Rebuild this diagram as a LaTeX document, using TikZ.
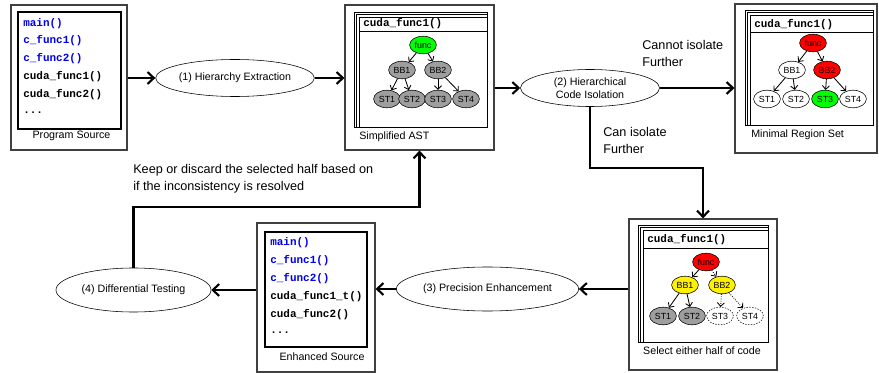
\documentclass[tikz,border=0pt]{standalone}
\usepackage{fontspec}
\setmainfont{Liberation Sans}
\setmonofont{Liberation Mono}
\usetikzlibrary{arrows.meta,shapes.geometric}
\definecolor{codeblue}{RGB}{0,0,235}
\definecolor{astgray}{RGB}{158,158,158}
\begin{document}
\begin{tikzpicture}
[x=0.025cm,y=-0.025cm,
  stepdecorate/.style={shape=ellipse,draw,inner sep=0pt,align=center,font=\fontsize{7.6}{9}\selectfont},%
  outerbox/.style={draw=black!75,line width=0.8pt,inner sep=0pt},%
  innerbox/.style={draw,line width=0.8pt,inner sep=0pt},%
  codeline/.style={anchor=west,inner sep=0pt,font=\fontsize{7.8}{9}\selectfont\ttfamily\bfseries},%
  caption/.style={inner sep=0pt,font=\fontsize{7.6}{9}\selectfont},%
  flowlabel/.style={anchor=west,align=left,inner sep=0pt,font=\fontsize{9}{12}\selectfont},%
  astdecorate/.style={shape=ellipse,draw,minimum width=0.67cm,minimum height=0.44cm,inner sep=0pt,font=\fontsize{6.3}{7}\selectfont},%
  stackdecorate/.style={draw,fill=white,line width=0.7pt},%
  arrowdecorate/.style={-{Straight Barb[length=4.5pt,width=8.5pt]},line width=1.5pt},%
  treearrow/.style={-{Straight Barb[length=2.6pt,width=5pt]},line width=0.6pt}]
\useasboundingbox (0,0) rectangle (879,373);
% program source
\node (srcbox) at (69,77.5) [outerbox,minimum width=2.9cm,minimum height=3.625cm] {};
\node (srcinner) at (69.5,70.5) [innerbox,minimum width=2.575cm,minimum height=2.925cm] {};
\node (srcl1) at (23,24) [codeline,text=codeblue] {main()};
\node (srcl2) at (23,41) [codeline,text=codeblue] {c\_func1()};
\node (srcl3) at (23,59) [codeline,text=codeblue] {c\_func2()};
\node (srcl4) at (23,77) [codeline] {cuda\_func1()};
\node (srcl5) at (23,95) [codeline] {cuda\_func2()};
\node (srcl6) at (23,113) [codeline] {...};
\node (srccap) at (71.5,136) [caption] {Program Source};
% simplified ast
\node (astbox) at (419.5,77.5) [outerbox,minimum width=3.725cm,minimum height=3.625cm] {};
\draw[stackdecorate] (354,12) rectangle (487,127);
\draw[stackdecorate] (356.5,14.5) rectangle (487,127);
\draw[stackdecorate] (359,17) rectangle (487,127);
\draw (359,31) -- (487,31);
\node (asttitle) at (363,24) [codeline] {cuda\_func1()};
\node (af) at (423,45) [astdecorate,fill=green] {func};
\node (ab1) at (402,70) [astdecorate,fill=astgray] {BB1};
\node (ab2) at (438,70) [astdecorate,fill=astgray] {BB2};
\node (as1) at (387,99) [astdecorate,fill=astgray] {ST1};
\node (as2) at (412,99) [astdecorate,fill=astgray] {ST2};
\node (as3) at (438,99) [astdecorate,fill=astgray] {ST3};
\node (as4) at (466,99) [astdecorate,fill=astgray] {ST4};
\node (astcap) at (359,137) [caption,anchor=west] {Simplified AST};
\path
(af) edge[treearrow] (ab1)
(af) edge[treearrow] (ab2)
(ab1) edge[treearrow] (as1)
(ab1) edge[treearrow] (as2)
(ab2) edge[treearrow] (as3)
(ab2) edge[treearrow] (as4);
% minimal region set
\node (minbox) at (806,78.5) [outerbox,minimum width=3.55cm,minimum height=3.725cm] {};
\draw[stackdecorate] (745,10) rectangle (873,125);
\draw[stackdecorate] (747.5,12.5) rectangle (873,125);
\draw[stackdecorate] (750,15) rectangle (873,125);
\draw (750,32) -- (873,32);
\node (mintitle) at (754,25) [codeline] {cuda\_func1()};
\node (mf) at (813,43) [astdecorate,fill=red] {func};
\node (mb1) at (792,70) [astdecorate,fill=white] {BB1};
\node (mb2) at (827,70) [astdecorate,fill=red] {BB2};
\node (ms1) at (767,99) [astdecorate,fill=white] {ST1};
\node (ms2) at (796,99) [astdecorate,fill=white] {ST2};
\node (ms3) at (825,99) [astdecorate,fill=green] {ST3};
\node (ms4) at (853,99) [astdecorate,fill=white] {ST4};
\node (mincap) at (751,135) [caption,anchor=west] {Minimal Region Set};
\path
(mf) edge[treearrow] (mb1)
(mf) edge[treearrow] (mb2)
(mb1) edge[treearrow] (ms1)
(mb1) edge[treearrow] (ms2)
(mb2) edge[treearrow] (ms3)
(mb2) edge[treearrow] (ms4);
% select either half
\node (selbox) at (703,294.5) [outerbox,minimum width=3.7cm,minimum height=3.775cm] {};
\draw[stackdecorate] (638,225) rectangle (768,342);
\draw[stackdecorate] (640.5,227.5) rectangle (768,342);
\draw[stackdecorate] (643,230) rectangle (768,342);
\draw (643,248) -- (768,248);
\node (seltitle) at (647,240) [codeline] {cuda\_func1()};
\node (sf) at (706,262) [astdecorate,fill=red] {func};
\node (sb1) at (685,285) [astdecorate,fill=yellow] {BB1};
\node (sb2) at (722,285) [astdecorate,fill=yellow] {BB2};
\node (ss1) at (663,316) [astdecorate,fill=astgray] {ST1};
\node (ss2) at (692,316) [astdecorate,fill=astgray] {ST2};
\node (ss3) at (720,316) [astdecorate,fill=white,dash pattern=on 1pt off 1pt] {ST3};
\node (ss4) at (750,316) [astdecorate,fill=white,dash pattern=on 1pt off 1pt] {ST4};
\node (selcap) at (702,351) [caption] {Select either half of code};
\path
(sf) edge[treearrow] (sb1)
(sf) edge[treearrow,densely dotted] (sb2)
(sb1) edge[treearrow] (ss1)
(sb1) edge[treearrow] (ss2)
(sb2) edge[treearrow,densely dotted] (ss3)
(sb2) edge[treearrow,densely dotted] (ss4);
% enhanced source
\node (enhbox) at (316,297.5) [outerbox,minimum width=2.95cm,minimum height=3.725cm] {};
\node (enhinner) at (316,289.5) [innerbox,minimum width=2.55cm,minimum height=2.875cm] {};
\node (enhl1) at (270,243) [codeline,text=codeblue] {main()};
\node (enhl2) at (270,261) [codeline,text=codeblue] {c\_func1()};
\node (enhl3) at (270,279) [codeline,text=codeblue] {c\_func2()};
\node (enhl4) at (270,297) [codeline] {cuda\_func1\_t()};
\node (enhl5) at (270,315) [codeline] {cuda\_func2()};
\node (enhl6) at (270,333) [codeline] {...};
\node (enhcap) at (322,357) [caption] {Enhanced Source};
% steps
\node (ext) at (235,78) [stepdecorate,minimum width=3.5cm,minimum height=0.925cm] {(1) Hierarchy Extraction};
\node (iso) at (590,88) [stepdecorate,minimum width=3.475cm,minimum height=0.925cm] {(2) Hierarchical\\Code Isolation};
\node (prec) at (487.5,289) [stepdecorate,minimum width=3.475cm,minimum height=1.1cm] {(3) Precision Enhancement};
\node (diff) at (133.5,290) [stepdecorate,minimum width=3.875cm,minimum height=1.1cm] {(4) Differential Testing};
% labels
\node (cannot) at (642,53.5) [flowlabel] {Cannot isolate\\Further};
\node (can) at (603,140.5) [flowlabel] {Can isolate\\Further};
\node (keep) at (133,179) [flowlabel] {Keep or discard the selected half based on\\if the inconsistency is resolved};
% edges
\draw[arrowdecorate] (srcbox.east |- ext) -- (ext);
\draw[arrowdecorate] (ext) -- (ext -| astbox.west);
\draw[arrowdecorate] (astbox.east |- iso) -- (iso);
\draw[arrowdecorate] (iso) -- (iso -| minbox.west);
\draw[arrowdecorate] (iso.south) -- ++(0,61) -| (selbox.north);
\draw[arrowdecorate] (selbox.west |- prec) -- (prec);
\draw[arrowdecorate] (prec) -- (prec -| enhbox.east);
\draw[arrowdecorate] (enhbox.west |- diff) -- (diff);
\draw[arrowdecorate] (diff.north) -- ++(0,-61) -| (astbox.south);
\end{tikzpicture}
\end{document}
